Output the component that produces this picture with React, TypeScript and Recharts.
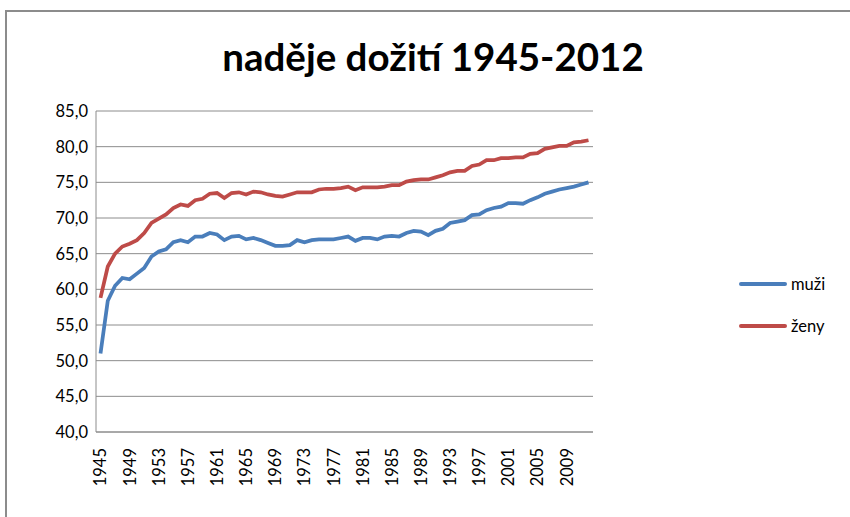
import { LineChart, Line, XAxis, YAxis, CartesianGrid, Legend } from 'recharts';

const years = [
  1945, 1946, 1947, 1948, 1949, 1950, 1951, 1952, 1953, 1954, 1955, 1956, 1957, 1958, 1959, 1960, 1961,
  1962, 1963, 1964, 1965, 1966, 1967, 1968, 1969, 1970, 1971, 1972, 1973, 1974, 1975, 1976, 1977, 1978,
  1979, 1980, 1981, 1982, 1983, 1984, 1985, 1986, 1987, 1988, 1989, 1990, 1991, 1992, 1993, 1994, 1995,
  1996, 1997, 1998, 1999, 2000, 2001, 2002, 2003, 2004, 2005, 2006, 2007, 2008, 2009, 2010, 2011, 2012,
];

const muzi = [
  51.0, 58.4, 60.5, 61.6, 61.4, 62.2, 63.0, 64.6, 65.3, 65.6, 66.6, 66.9, 66.6, 67.4, 67.4, 67.9, 67.7,
  66.9, 67.4, 67.5, 67.0, 67.2, 66.9, 66.5, 66.1, 66.1, 66.2, 66.9, 66.6, 66.9, 67.0, 67.0, 67.0, 67.2,
  67.4, 66.8, 67.2, 67.2, 67.0, 67.4, 67.5, 67.4, 67.9, 68.2, 68.1, 67.6, 68.2, 68.5, 69.3, 69.5, 69.7,
  70.4, 70.5, 71.1, 71.4, 71.6, 72.1, 72.1, 72.0, 72.5, 72.9, 73.4, 73.7, 74.0, 74.2, 74.4, 74.7, 75.0,
];

const zeny = [
  58.8, 63.2, 65.0, 66.0, 66.4, 66.9, 67.9, 69.3, 69.9, 70.5, 71.4, 71.9, 71.7, 72.5, 72.7, 73.4, 73.5,
  72.8, 73.5, 73.6, 73.3, 73.7, 73.6, 73.3, 73.1, 73.0, 73.3, 73.6, 73.6, 73.6, 74.0, 74.1, 74.1, 74.2,
  74.4, 73.9, 74.3, 74.3, 74.3, 74.4, 74.6, 74.6, 75.1, 75.3, 75.4, 75.4, 75.7, 76.0, 76.4, 76.6, 76.6,
  77.3, 77.5, 78.1, 78.1, 78.4, 78.4, 78.5, 78.5, 79.0, 79.1, 79.7, 79.9, 80.1, 80.1, 80.6, 80.7, 80.9,
];

const yTicks = [40, 45, 50, 55, 60, 65, 70, 75, 80, 85];

const series = [
  { key: 'muzi', name: 'muži', color: '#4a7ebb' },
  { key: 'zeny', name: 'ženy', color: '#be4b48' },
];

const data = years.map((y, i) => ({ year: String(y), muzi: muzi[i], zeny: zeny[i] }));

const FONT = 'Lato, "Open Sans", sans-serif';

function YearTick({ x, y, payload }: any) {
  return (
    <text
      x={x}
      y={y + 8}
      transform={`rotate(-90 ${x} ${y + 8})`}
      textAnchor="end"
      dy="0.36em"
      fontSize={16.5}
      fontFamily={FONT}
      fill="#000"
    >
      {payload.value}
    </text>
  );
}

function LegendBox() {
  return (
    <div style={{ fontFamily: FONT, fontSize: 16.5, color: '#000' }}>
      {series.map((s) => (
        <div key={s.key} style={{ display: 'flex', alignItems: 'center', height: 42 }}>
          <div style={{ width: 48, height: 4, borderRadius: 2, background: s.color, marginRight: 4 }} />
          <span>{s.name}</span>
        </div>
      ))}
    </div>
  );
}

export default function App() {
  return (
    <div style={{ position: 'absolute', left: 0, top: 0, width: 850, height: 517, background: '#fff', overflow: 'hidden' }}>
      {/* chart frame */}
      <div
        style={{
          position: 'absolute', left: 5, top: 10, width: 860, height: 530,
          border: '2px solid #8c8c8c', boxSizing: 'border-box',
        }}
      />
      <div
        style={{
          position: 'absolute', left: 0, top: 33, width: 866, textAlign: 'center',
          fontFamily: FONT, fontWeight: 700, fontSize: 38.5, color: '#000',
        }}
      >
        naděje dožití 1945-2012
      </div>
      <div style={{ position: 'absolute', left: 0, top: 0 }}>
        <LineChart width={850} height={517} data={data} margin={{ top: 111, right: 147, bottom: 25, left: 36 }}>
          <CartesianGrid horizontal vertical={false} stroke="#8c8c8c" strokeWidth={1} />
          <XAxis
            dataKey="year"
            interval={3}
            tick={<YearTick />}
            tickLine={false}
            axisLine={{ stroke: '#8c8c8c' }}
            padding={{ left: 4.5, right: 4.5 }}
            height={60}
          />
          <YAxis
            domain={[40, 85]}
            ticks={yTicks}
            tickFormatter={(v: number) => v.toFixed(1).replace('.', ',')}
            tick={{ fontSize: 16.5, fontFamily: FONT, fill: '#000' }}
            tickLine={false}
            axisLine={{ stroke: '#8c8c8c' }}
            width={60}
          />
          <Legend
            layout="vertical"
            align="right"
            verticalAlign="top"
            wrapperStyle={{ left: 739, top: 263, width: 110 }}
            content={<LegendBox />}
          />
          {series.map((s) => (
            <Line
              key={s.key}
              type="linear"
              dataKey={s.key}
              name={s.name}
              stroke={s.color}
              strokeWidth={3.75}
              dot={false}
              isAnimationActive={false}
            />
          ))}
        </LineChart>
      </div>
    </div>
  );
}
